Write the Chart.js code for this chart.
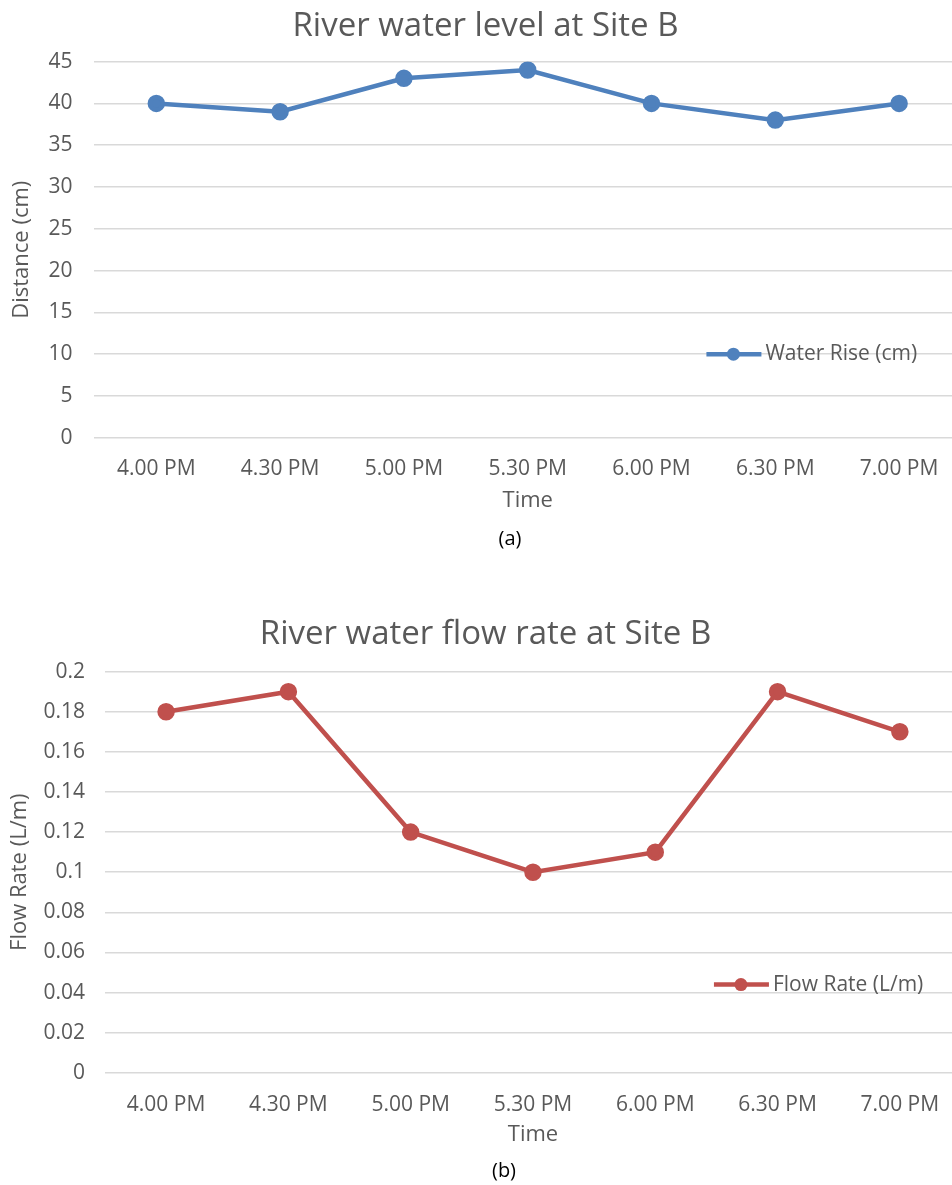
<!DOCTYPE html>
<html>
<head>
<meta charset="utf-8">
<script src="https://cdn.jsdelivr.net/npm/chart.js@4.4.0/dist/chart.umd.min.js"></script>
<style>
  html, body { margin: 0; padding: 0; background: #fff; overflow: hidden; }
  body { width: 952px; height: 1185px; position: relative; font-family: "Open Sans", sans-serif; }
  .box { position: absolute; left: 0; width: 972px; }
  .cap { position: absolute; font-size: 20px; color: #000; transform: translateX(-50%); }
</style>
</head>
<body>
<div class="box" style="top:0; height:541px;"><canvas id="levelChart"></canvas></div>
<div class="cap" style="left:510px; top:524px;">(a)</div>
<div class="box" style="top:605px; height:573px;"><canvas id="flowChart"></canvas></div>
<div class="cap" style="left:504px; top:1156px;">(b)</div>

<script>
const timeLabels = ['4.00 PM', '4.30 PM', '5.00 PM', '5.30 PM', '6.00 PM', '6.30 PM', '7.00 PM'];
const waterRise = [40, 39, 43, 44, 40, 38, 40];
const flowRate = [0.18, 0.19, 0.12, 0.10, 0.11, 0.19, 0.17];

const textColor = '#595959';
const gridColor = '#d9d9d9';

// legend drawn inside the plot like the Excel one, plus the "Time" axis title
const innerLegend = {
    id: 'innerLegend',
    afterDatasetsDraw(chart, args, opts) {
        const ctx = chart.ctx;
        const ds = chart.data.datasets[0];
        const area = chart.chartArea;
        const x = area.left + opts.x;
        const y = chart.scales.y.getPixelForValue(opts.value) + (opts.dy || 0);
        ctx.save();
        ctx.strokeStyle = ds.borderColor;
        ctx.lineWidth = 4.5;
        ctx.beginPath();
        ctx.moveTo(x, y);
        ctx.lineTo(x + 55, y);
        ctx.stroke();
        ctx.fillStyle = ds.borderColor;
        ctx.beginPath();
        ctx.arc(x + 27, y, 6.5, 0, Math.PI * 2);
        ctx.fill();
        ctx.fillStyle = textColor;
        ctx.font = '21px "Open Sans"';
        ctx.textBaseline = 'middle';
        ctx.fillText(ds.label, x + 59, y);

        ctx.font = '22px "Open Sans"';
        ctx.textAlign = 'center';
        ctx.fillText('Time', (area.left + area.right) / 2, area.bottom + opts.timeDy);
        ctx.restore();
    }
};

function makeChart(id, data, label, color, title, yTitle, yMax, yStep, legendPos, titlePad, pad, yTitlePad, yTickPad, xTickPad) {
    const ctx = document.getElementById(id).getContext('2d');
    return new Chart(ctx, {
        type: 'line',
        data: {
            labels: timeLabels,
            datasets: [{
                label: label,
                data: data,
                borderColor: color,
                backgroundColor: color,
                borderWidth: 4.5,
                pointRadius: 6.5,
                pointHoverRadius: 6.5,
                tension: 0,
                fill: false
            }]
        },
        options: {
            responsive: true,
            maintainAspectRatio: false,
            animation: false,
            layout: { padding: pad },
            plugins: {
                legend: { display: false },
                tooltip: { enabled: false },
                title: {
                    display: true,
                    text: title,
                    color: textColor,
                    font: { family: 'Open Sans', size: 33, weight: 'normal' },
                    padding: titlePad
                },
                innerLegend: legendPos
            },
            scales: {
                x: {
                    offset: true,
                    grid: { display: false, drawTicks: false },
                    border: { display: false },
                    ticks: { color: textColor, font: { family: 'Open Sans', size: 21 }, padding: xTickPad, maxRotation: 0, autoSkip: false }
                },
                y: {
                    min: 0,
                    max: yMax,
                    grid: { color: gridColor, lineWidth: 1.5, drawTicks: false },
                    border: { display: false },
                    ticks: {
                        stepSize: yStep,
                        color: textColor,
                        font: { family: 'Open Sans', size: 21 },
                        padding: yTickPad,
                        callback: v => Number(v.toFixed(2)).toString()
                    },
                    title: {
                        display: true,
                        text: yTitle,
                        color: textColor,
                        font: { family: 'Open Sans', size: 22 },
                        padding: { top: 0, bottom: yTitlePad }
                    }
                }
            }
        },
        plugins: [innerLegend]
    });
}

makeChart('levelChart', waterRise, 'Water Rise (cm)', '#4f81bd',
    'River water level at Site B', 'Distance (cm)', 45, 5,
    { x: 612, value: 10, dy: 0, timeDy: 63 },
    { top: 7, bottom: 15 },
    { left: 9, right: 10, top: 0, bottom: 40 }, -9, 22, 19);

makeChart('flowChart', flowRate, 'Flow Rate (L/m)', '#c0504d',
    'River water flow rate at Site B', 'Flow Rate (L/m)', 0.2, 0.02,
    { x: 609, value: 0.04, dy: -8, timeDy: 62 },
    { top: 10, bottom: 17 },
    { left: 7, right: 8, top: 0, bottom: 40 }, -10, 20, 20);
</script>
</body>
</html>
